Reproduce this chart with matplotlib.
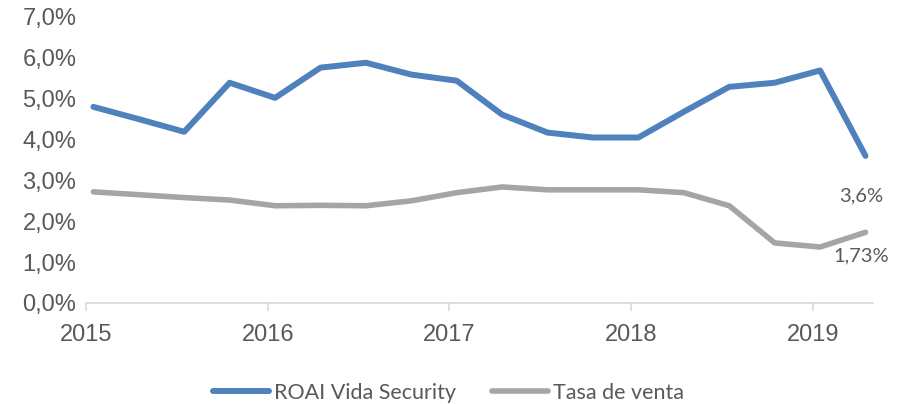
import matplotlib.pyplot as plt
from matplotlib.ticker import FuncFormatter

# quarterly observations, decimal years
periodos = [2015.04, 2015.29, 2015.54, 2015.79, 2016.04, 2016.29, 2016.54, 2016.79,
            2017.04, 2017.29, 2017.54, 2017.79, 2018.04, 2018.29, 2018.54, 2018.79,
            2019.04, 2019.29]
roai = [4.80, 4.50, 4.19, 5.39, 5.02, 5.76, 5.88, 5.59, 5.44, 4.61, 4.17, 4.05,
        4.05, 4.68, 5.29, 5.39, 5.69, 3.60]
tasa_venta = [2.72, 2.65, 2.58, 2.52, 2.38, 2.39, 2.38, 2.50, 2.70, 2.84, 2.77, 2.77,
              2.77, 2.70, 2.38, 1.47, 1.37, 1.73]
anios = [2015, 2016, 2017, 2018, 2019]
yticks = [0, 1, 2, 3, 4, 5, 6, 7]

azul = '#4F81BD'
gris = '#A5A5A5'
texto = '#595959'

fig = plt.figure(figsize=(8.97, 4.04), dpi=100)
ax = fig.add_axes([0.096, 0.25, 0.877, 0.708])

ax.plot(periodos, roai, color=azul, lw=4.3, solid_capstyle='round',
        solid_joinstyle='round', label='ROAI Vida Security')
ax.plot(periodos, tasa_venta, color=gris, lw=4.0, solid_capstyle='round',
        solid_joinstyle='round', label='Tasa de venta')

# end-point labels
ax.annotate(f'{roai[-1]:.1f}%'.replace('.', ','), (periodos[-1], roai[-1]),
            xytext=(-3, -29), textcoords='offset points', ha='center', va='center',
            fontsize=14.5, color=texto, family='Lato')
ax.annotate(f'{tasa_venta[-1]:.2f}%'.replace('.', ','), (periodos[-1], tasa_venta[-1]),
            xytext=(-3, -17), textcoords='offset points', ha='center', va='center',
            fontsize=14.5, color=texto, family='Lato')

ax.set_xlim(2015.0, 2019.33)
ax.set_ylim(0, 7)
ax.set_xticks(anios)
ax.set_xticklabels([str(a) for a in anios])
ax.set_yticks(yticks)
ax.yaxis.set_major_formatter(FuncFormatter(lambda v, p: f'{v:.1f}%'.replace('.', ',')))

for s in ['top', 'right', 'left']:
    ax.spines[s].set_visible(False)
ax.spines['bottom'].set_color('#D9D9D9')
ax.spines['bottom'].set_linewidth(1.2)
ax.tick_params(axis='x', colors='#D9D9D9', length=6, width=1.2, pad=9,
               labelcolor=texto, labelsize=17)
ax.tick_params(axis='y', length=0, pad=7, labelcolor=texto, labelsize=17)
for lbl in ax.get_xticklabels() + ax.get_yticklabels():
    lbl.set_family('Liberation Sans')

fig.legend(loc='center', bbox_to_anchor=(0.5, 0.028), ncol=2, frameon=False,
           handlelength=2.6, handletextpad=0.2, columnspacing=1.7,
           prop={'family': 'Lato', 'size': 15.5}, labelcolor=texto)

fig.savefig('out.png', dpi=100)
